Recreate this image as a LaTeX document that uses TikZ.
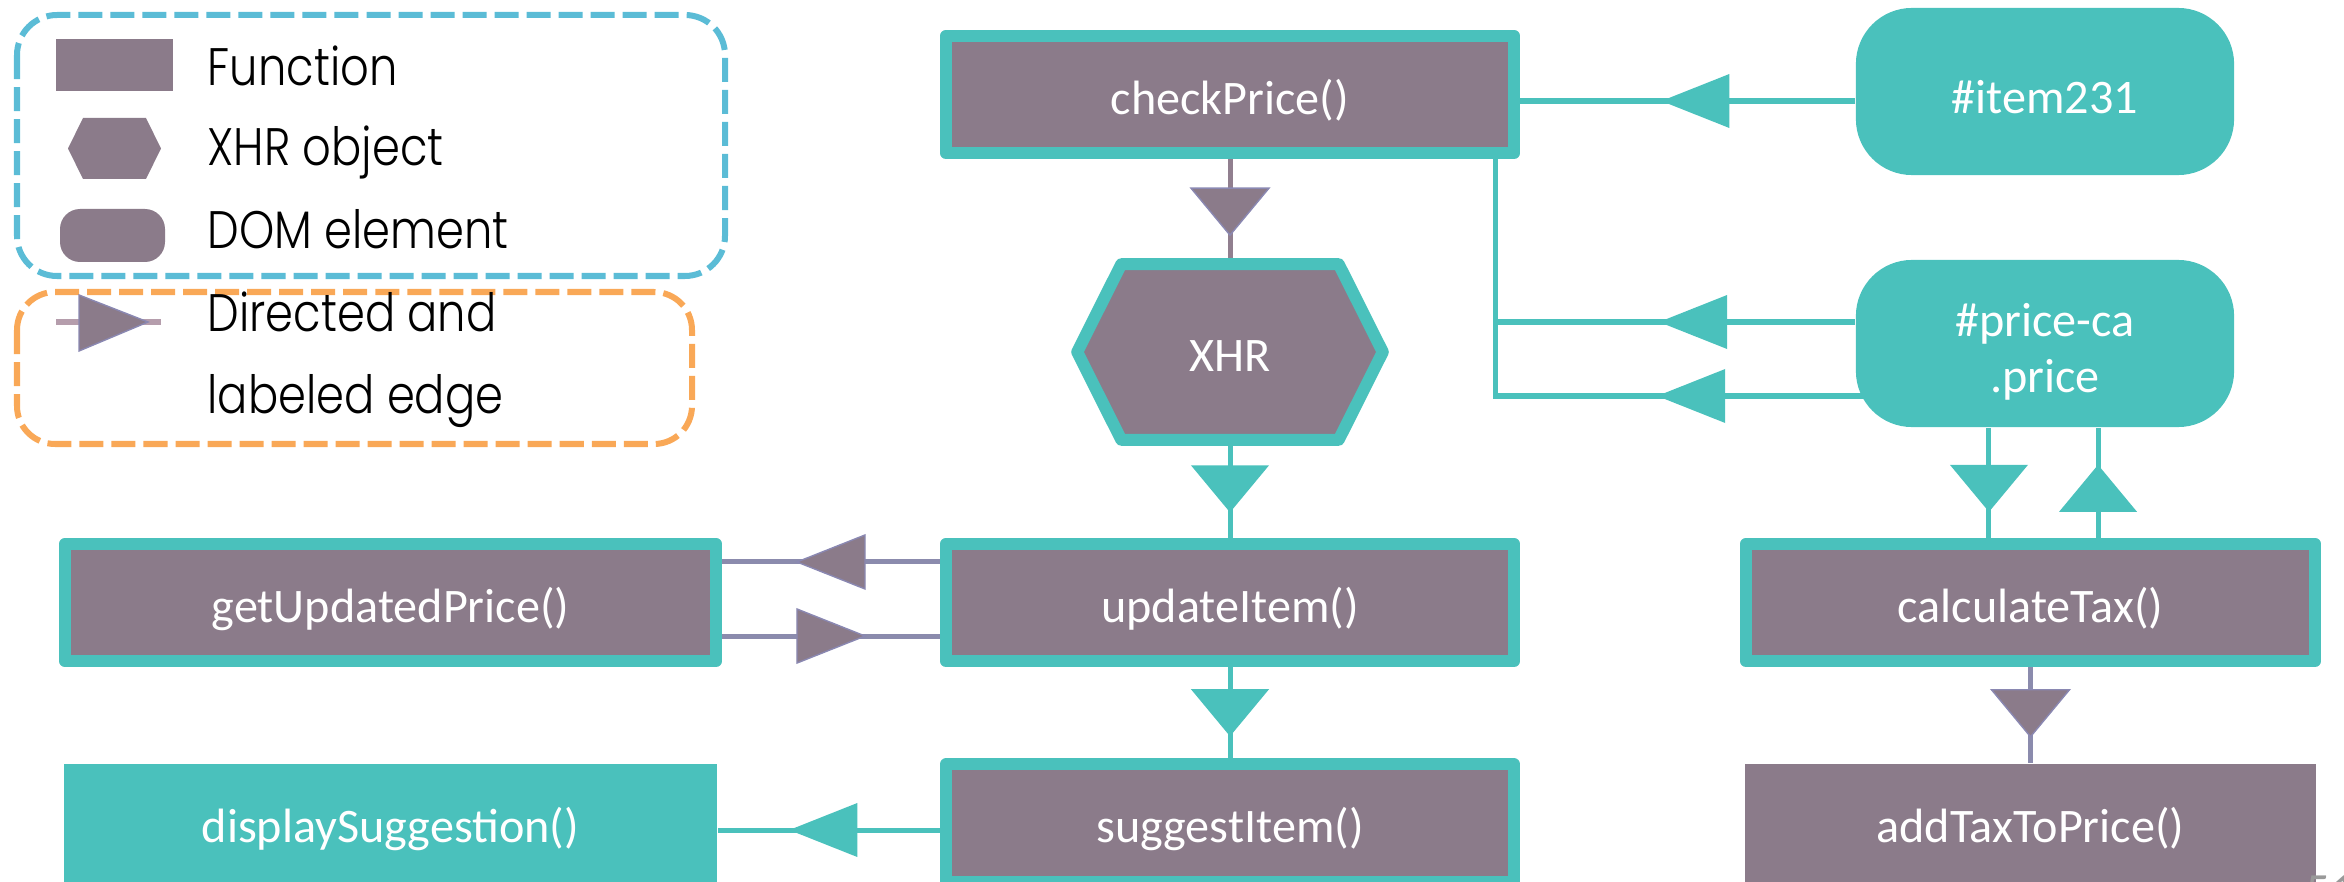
\documentclass[tikz,border=0pt]{standalone}
\usepackage{fontspec}
\setmainfont{Carlito}
\newfontfamily\boxfont{Carlito}
\IfFontExistsTF{Poppins Light}
  {\newfontfamily\legendfont{Poppins Light}[FakeStretch=0.85]}
  {\newfontfamily\legendfont{Poppins}[FakeStretch=0.85]}
\usetikzlibrary{decorations.markings,calc}

\definecolor{tealc}{HTML}{4AC1BC}
\definecolor{mauve}{HTML}{8B7B8A}
\definecolor{slateline}{HTML}{8B8BAD}
\definecolor{mauveline}{HTML}{917F8F}
\definecolor{legendline}{HTML}{B59DAC}
\definecolor{legblue}{HTML}{5BBCD6}
\definecolor{legorange}{HTML}{F9A857}
\definecolor{tricontour}{HTML}{8A88B2}

\pgfdeclarelayer{edges}
\pgfdeclarelayer{shapes}
\pgfsetlayers{edges,shapes,main}

\tikzset{
  boxtext/.style={text=white, font=\boxfont\fontsize{13.7}{16}\selectfont},
  fnbox/.style={boxtext, rectangle, fill=mauve, draw=tealc, line width=0.12cm,
    line join=round, minimum width=5.68cm, minimum height=1.17cm, inner sep=0pt,
    text height=1.3em, text depth=0.18em},
  plainfn/.style={boxtext, rectangle, minimum height=1.18cm, inner sep=0pt,
    text height=1.3em, text depth=0.18em},
  dombox/.style={boxtext, rectangle, rounded corners=0.56cm, fill=tealc,
    minimum width=3.78cm, minimum height=1.67cm, inner sep=0pt},
  legendtext/.style={anchor=base west, inner sep=0pt, text=black,
    font=\legendfont\fontsize{15}{18}\selectfont},
  tealedge/.style={draw=tealc, line width=0.05cm},
  slateedge/.style={draw=slateline, line width=0.05cm},
  mauveedge/.style={draw=mauveline, line width=0.05cm},
  % arrow heads placed along an edge (vertical and horizontal proportions)
  tealv/.style={postaction={decorate}, decoration={markings, mark=at position #1 with
    {\fill[tealc] (0.235cm,0) -- (-0.235cm,0.39cm) -- (-0.235cm,-0.39cm) -- cycle;}}},
  tealv/.default=0.5,
  tealh/.style={postaction={decorate}, decoration={markings, mark=at position #1 with
    {\fill[tealc] (0.34cm,0) -- (-0.34cm,0.27cm) -- (-0.34cm,-0.27cm) -- cycle;}}},
  tealh/.default=0.5,
  mauvev/.style={postaction={decorate}, decoration={markings, mark=at position #1 with
    {\filldraw[fill=mauve, draw=tricontour, line width=0.4pt]
      (0.235cm,0) -- (-0.235cm,0.39cm) -- (-0.235cm,-0.39cm) -- cycle;}}},
  mauvev/.default=0.5,
  mauveh/.style={postaction={decorate}, decoration={markings, mark=at position #1 with
    {\filldraw[fill=mauve, draw=tricontour, line width=0.4pt]
      (0.34cm,0) -- (-0.34cm,0.27cm) -- (-0.34cm,-0.27cm) -- cycle;}}},
  mauveh/.default=0.5,
}

\begin{document}
\begin{tikzpicture}[x=0.01cm, y=-0.01cm]
\useasboundingbox (0,0) rectangle (2344,882);

% ---------- legend ----------
\draw[legblue, line width=0.06cm, dash pattern=on 0.24cm off 0.08cm, rounded corners=0.4cm]
  (17,15) rectangle (725,276);
\draw[legorange, line width=0.06cm, dash pattern=on 0.24cm off 0.08cm, rounded corners=0.38cm]
  (17,292) rectangle (692,444);

\fill[mauve] (56,39) rectangle (173,91);
\fill[mauve] (68,148.5) -- (83,118) -- (146,118) -- (161,148.5) -- (146,179) -- (83,179) -- cycle;
\fill[mauve, rounded corners=0.2cm] (60,209) rectangle (165,262);
\draw[legendline, line width=0.05cm] (56,322) -- (161,322);
\filldraw[fill=mauve, draw=tricontour, line width=0.4pt] (79,295) -- (148,322) -- (79,351) -- cycle;

\node[legendtext] (lgFunction) at (207,86) {Function};
\node[legendtext] (lgXhr) at (207,166) {XHR object};
\node[legendtext] (lgDom) at (207,249) {DOM element};
\node[legendtext] (lgEdgeA) at (207,332) {Directed and};
\node[legendtext] (lgEdgeB) at (207,414) {labeled edge};

% ---------- function nodes ----------
\node[fnbox] (checkPrice) at (1230,94.5) {checkPrice()};
\node[fnbox] (updateItem) at (1230,602.5) {updateItem()};
\node[fnbox] (suggestItem) at (1230,823) {suggestItem()};
\node[fnbox, minimum width=6.51cm] (getUpdatedPrice) at (390.5,602.5) {getUpdatedPrice()};
\node[fnbox, minimum width=5.69cm] (calculateTax) at (2030.5,602.5) {calculateTax()};
\node[plainfn, fill=tealc, minimum width=6.53cm] (displaySuggestion) at (390.5,823) {displaySuggestion()};
\node[plainfn, fill=mauve, minimum width=5.71cm] (addTaxToPrice) at (2030.5,823) {addTaxToPrice()};

% ---------- XHR object ----------
\node[boxtext, rectangle, minimum width=3.04cm, minimum height=1.74cm, inner sep=0pt,
  text height=1.3em, text depth=0.18em] (XHR) at (1230,352) {XHR};
\begin{pgfonlayer}{shapes}
\filldraw[fill=mauve, draw=tealc, line width=0.12cm, line join=round]
  (XHR.west) -- ([xshift=0.44cm]XHR.north west) -- ([xshift=-0.44cm]XHR.north east)
  -- (XHR.east) -- ([xshift=-0.44cm]XHR.south east) -- ([xshift=0.44cm]XHR.south west) -- cycle;
\end{pgfonlayer}

% ---------- DOM elements ----------
\node[dombox] (item231) at (2045,91.5) {};
\node[boxtext, anchor=base, inner sep=0pt] (item231text) at (2045,114) {\#item231};
\node[dombox] (priceCa) at (2045,343.5) {};
\node[boxtext, anchor=base, inner sep=0pt] (priceCaA) at (2045,337) {\#price-ca};
\node[boxtext, anchor=base, inner sep=0pt] (priceCaB) at (2045,393) {.price};

% slide number at the lower edge
\node[anchor=north west, inner sep=0pt, text=black!40, font=\boxfont\fontsize{14}{16}\selectfont]
  (slideNumber) at (2305,875) {51};

% ---------- edges ----------
\coordinate (bendA) at (1495,322);
\coordinate (bendB) at (1495,396);
\begin{pgfonlayer}{edges}
\draw[mauveedge, mauvev] (checkPrice.south) -- (XHR.north);
\draw[tealedge, tealv] (XHR.south) -- (updateItem.north);
\draw[tealedge, tealv] (updateItem.south) -- (suggestItem.north);
\draw[slateedge, mauveh] ([yshift=0.405cm]updateItem.west)
  -- ([yshift=0.405cm]updateItem.west -| getUpdatedPrice.east);
\draw[slateedge, mauveh] ([yshift=-0.335cm]getUpdatedPrice.east)
  -- ([yshift=-0.335cm]getUpdatedPrice.east -| updateItem.west);
\draw[tealedge, tealh=0.525] ([yshift=-0.07cm]suggestItem.west)
  -- ([yshift=-0.07cm]suggestItem.west -| displaySuggestion.east);
\draw[tealedge, tealh=0.477] ([yshift=-0.065cm]checkPrice.east -| item231.west)
  -- ([yshift=-0.065cm]checkPrice.east);
\draw[tealedge, tealh=0.45] (priceCa.west |- bendA) -- (bendA);
\draw[tealedge, tealh=0.47] ([xshift=0.1cm]priceCa.west |- bendB) -- (bendB);
\draw[tealedge, line cap=rect] (checkPrice.south -| bendA) -- (bendB);
\draw[tealedge, tealv=0.55] ([xshift=-0.56cm]priceCa.south)
  -- ([xshift=-0.56cm]priceCa.south |- calculateTax.north);
\draw[tealedge, tealv=0.45] ([xshift=0.53cm]priceCa.south |- calculateTax.north)
  -- ([xshift=0.53cm]priceCa.south);
\draw[slateedge, mauvev=0.48] (calculateTax.south) -- (addTaxToPrice.north);
\end{pgfonlayer}
\end{tikzpicture}
\end{document}
